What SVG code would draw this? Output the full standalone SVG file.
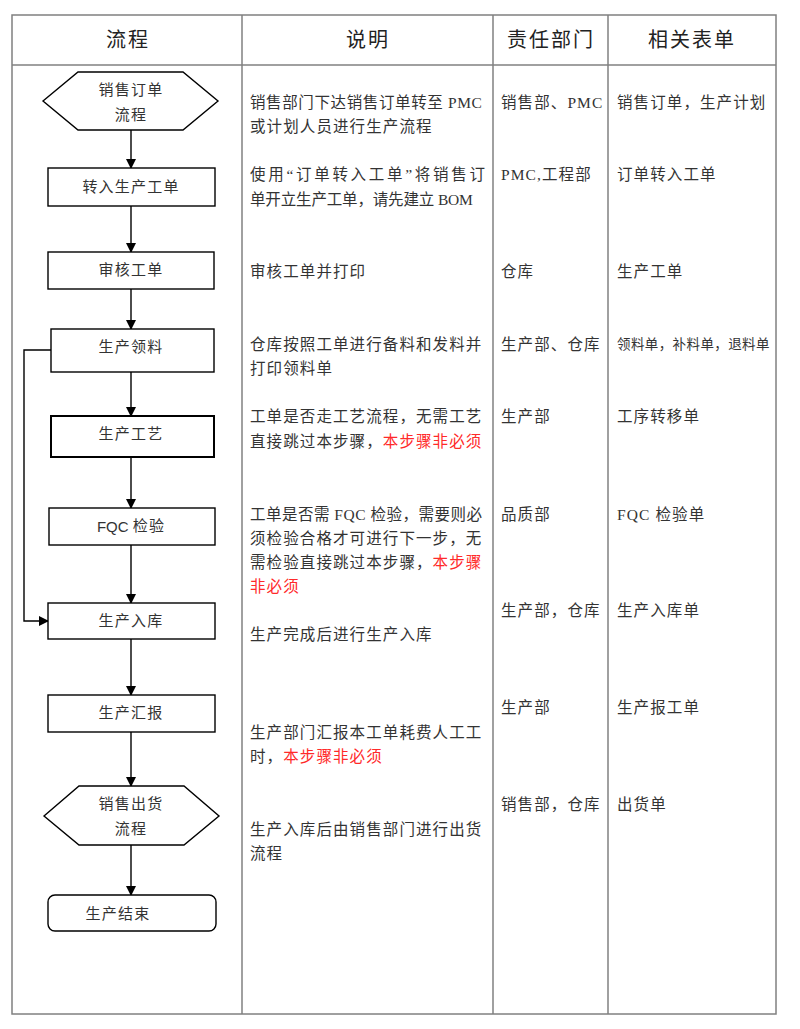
<svg xmlns="http://www.w3.org/2000/svg" width="800" height="1029" viewBox="0 0 800 1029">
<style>
.grid{fill:none;stroke:#808080;stroke-width:1.5}
.nd{fill:#fff;stroke:#000;stroke-width:1.4}
.nt{font-family:'Liberation Serif','Noto Sans CJK SC',serif;font-size:15px;letter-spacing:1.2px;fill:#333;text-anchor:middle;dominant-baseline:central}
.hd{font-family:'Liberation Serif','Noto Sans CJK SC',serif;font-size:20px;letter-spacing:2px;fill:#222;text-anchor:middle;dominant-baseline:central}
.tx{font-family:'Liberation Serif','Noto Sans CJK SC',serif;font-size:15.5px;letter-spacing:1.1px;fill:#333;dominant-baseline:central}
.sm{font-size:13.5px;letter-spacing:0.4px}
.red{fill:#ff2a2a}
.cn{fill:none;stroke:#000;stroke-width:1.4}
</style>
<defs>
<marker id="ah" markerWidth="10" markerHeight="10" refX="9" refY="5" orient="auto" markerUnits="userSpaceOnUse">
<path d="M0,0 L10,5 L0,10 Z" fill="#000"/>
</marker>
</defs>
<rect width="800" height="1029" fill="#fff"/>
<g id="table">
<rect class="grid" x="12" y="15" width="764" height="999"/>
<line class="grid" x1="12" y1="65" x2="776" y2="65"/>
<line class="grid" x1="242" y1="15" x2="242" y2="1014"/>
<line class="grid" x1="493" y1="15" x2="493" y2="1014"/>
<line class="grid" x1="608" y1="15" x2="608" y2="1014"/>
<text class="hd" x="128" y="40">流程</text>
<text class="hd" x="368" y="40">说明</text>
<text class="hd" x="551" y="40">责任部门</text>
<text class="hd" x="692" y="40">相关表单</text>
</g>
<g id="connectors">
<line class="cn" x1="131" y1="130" x2="131" y2="168" marker-end="url(#ah)"/>
<line class="cn" x1="131" y1="206" x2="131" y2="252" marker-end="url(#ah)"/>
<line class="cn" x1="131" y1="289" x2="131" y2="329" marker-end="url(#ah)"/>
<line class="cn" x1="131" y1="372" x2="131" y2="416" marker-end="url(#ah)"/>
<line class="cn" x1="131" y1="457" x2="131" y2="508" marker-end="url(#ah)"/>
<line class="cn" x1="131" y1="545" x2="131" y2="603" marker-end="url(#ah)"/>
<line class="cn" x1="131" y1="639" x2="131" y2="695" marker-end="url(#ah)"/>
<line class="cn" x1="131" y1="732" x2="131" y2="786" marker-end="url(#ah)"/>
<line class="cn" x1="131" y1="845" x2="131" y2="895" marker-end="url(#ah)"/>
<polyline class="cn" points="51,350 24,350 24,621 48,621" marker-end="url(#ah)"/>
</g>
<g id="n1">
<polygon class="nd" points="43,101 78,72 183,72 218,101 183,130 78,130"/>
<text class="nt" x="131" y="90">销售订单</text>
<text class="nt" x="131" y="115">流程</text>
</g>
<g id="n2">
<rect class="nd" x="48" y="168" width="167" height="38"/>
<text class="nt" x="131" y="187">转入生产工单</text>
</g>
<g id="n3">
<rect class="nd" x="48" y="252" width="166" height="37"/>
<text class="nt" x="131" y="270">审核工单</text>
</g>
<g id="n4">
<rect class="nd" x="51" y="329" width="163" height="43"/>
<text class="nt" x="131" y="347">生产领料</text>
</g>
<g id="n5">
<rect class="nd" x="51" y="416" width="163" height="41" style="stroke-width:2"/>
<text class="nt" x="131" y="434">生产工艺</text>
</g>
<g id="n6">
<rect class="nd" x="49" y="508" width="166" height="37"/>
<text class="nt" x="131" y="526"><tspan style="font-family:'Liberation Sans',sans-serif;letter-spacing:0">FQC </tspan>检验</text>
</g>
<g id="n7">
<rect class="nd" x="48" y="603" width="167" height="36"/>
<text class="nt" x="131" y="621">生产入库</text>
</g>
<g id="n8">
<rect class="nd" x="48" y="695" width="167" height="37"/>
<text class="nt" x="131" y="713">生产汇报</text>
</g>
<g id="n9">
<polygon class="nd" points="44,816 79,786 184,786 219,816 184,845 79,845"/>
<text class="nt" x="131" y="804">销售出货</text>
<text class="nt" x="131" y="829">流程</text>
</g>
<g id="n10">
<rect class="nd" x="48" y="895" width="168" height="36" rx="7"/>
<text class="nt" x="118" y="914">生产结束</text>
</g>
<g id="desc">
<text class="tx" x="250" y="102" textLength="233" lengthAdjust="spacing">销售部门下达销售订单转至 PMC</text>
<text class="tx" x="250" y="126">或计划人员进行生产流程</text>
<text class="tx" x="250" y="174" textLength="236" lengthAdjust="spacing">使用“订单转入工单”将销售订</text>
<text class="tx" x="250" y="199" textLength="224" lengthAdjust="spacing">单开立生产工单，请先建立 BOM</text>
<text class="tx" x="250" y="271">审核工单并打印</text>
<text class="tx" x="250" y="344">仓库按照工单进行备料和发料并</text>
<text class="tx" x="250" y="368">打印领料单</text>
<text class="tx" x="250" y="416">工单是否走工艺流程，无需工艺</text>
<text class="tx" x="250" y="441">直接跳过本步骤，<tspan class="red">本步骤非必须</tspan></text>
<text class="tx" x="250" y="514" textLength="233" lengthAdjust="spacing">工单是否需 FQC 检验，需要则必</text>
<text class="tx" x="250" y="538">须检验合格才可进行下一步，无</text>
<text class="tx" x="250" y="562">需检验直接跳过本步骤，<tspan class="red">本步骤</tspan></text>
<text class="tx red" x="250" y="586">非必须</text>
<text class="tx" x="250" y="634">生产完成后进行生产入库</text>
<text class="tx" x="250" y="732">生产部门汇报本工单耗费人工工</text>
<text class="tx" x="250" y="756">时，<tspan class="red">本步骤非必须</tspan></text>
<text class="tx" x="250" y="829">生产入库后由销售部门进行出货</text>
<text class="tx" x="250" y="853">流程</text>
</g>
<g id="dept">
<text class="tx" x="501" y="102">销售部、PMC</text>
<text class="tx" x="501" y="174">PMC,工程部</text>
<text class="tx" x="501" y="271">仓库</text>
<text class="tx" x="501" y="344">生产部、仓库</text>
<text class="tx" x="501" y="416">生产部</text>
<text class="tx" x="501" y="514">品质部</text>
<text class="tx" x="501" y="610">生产部，仓库</text>
<text class="tx" x="501" y="707">生产部</text>
<text class="tx" x="501" y="804">销售部，仓库</text>
</g>
<g id="forms">
<text class="tx" x="617" y="102">销售订单，生产计划</text>
<text class="tx" x="617" y="174">订单转入工单</text>
<text class="tx" x="617" y="271">生产工单</text>
<text class="tx sm" x="617" y="344">领料单，补料单，退料单</text>
<text class="tx" x="617" y="416">工序转移单</text>
<text class="tx" x="617" y="514">FQC 检验单</text>
<text class="tx" x="617" y="610">生产入库单</text>
<text class="tx" x="617" y="707">生产报工单</text>
<text class="tx" x="617" y="804">出货单</text>
</g>
</svg>
